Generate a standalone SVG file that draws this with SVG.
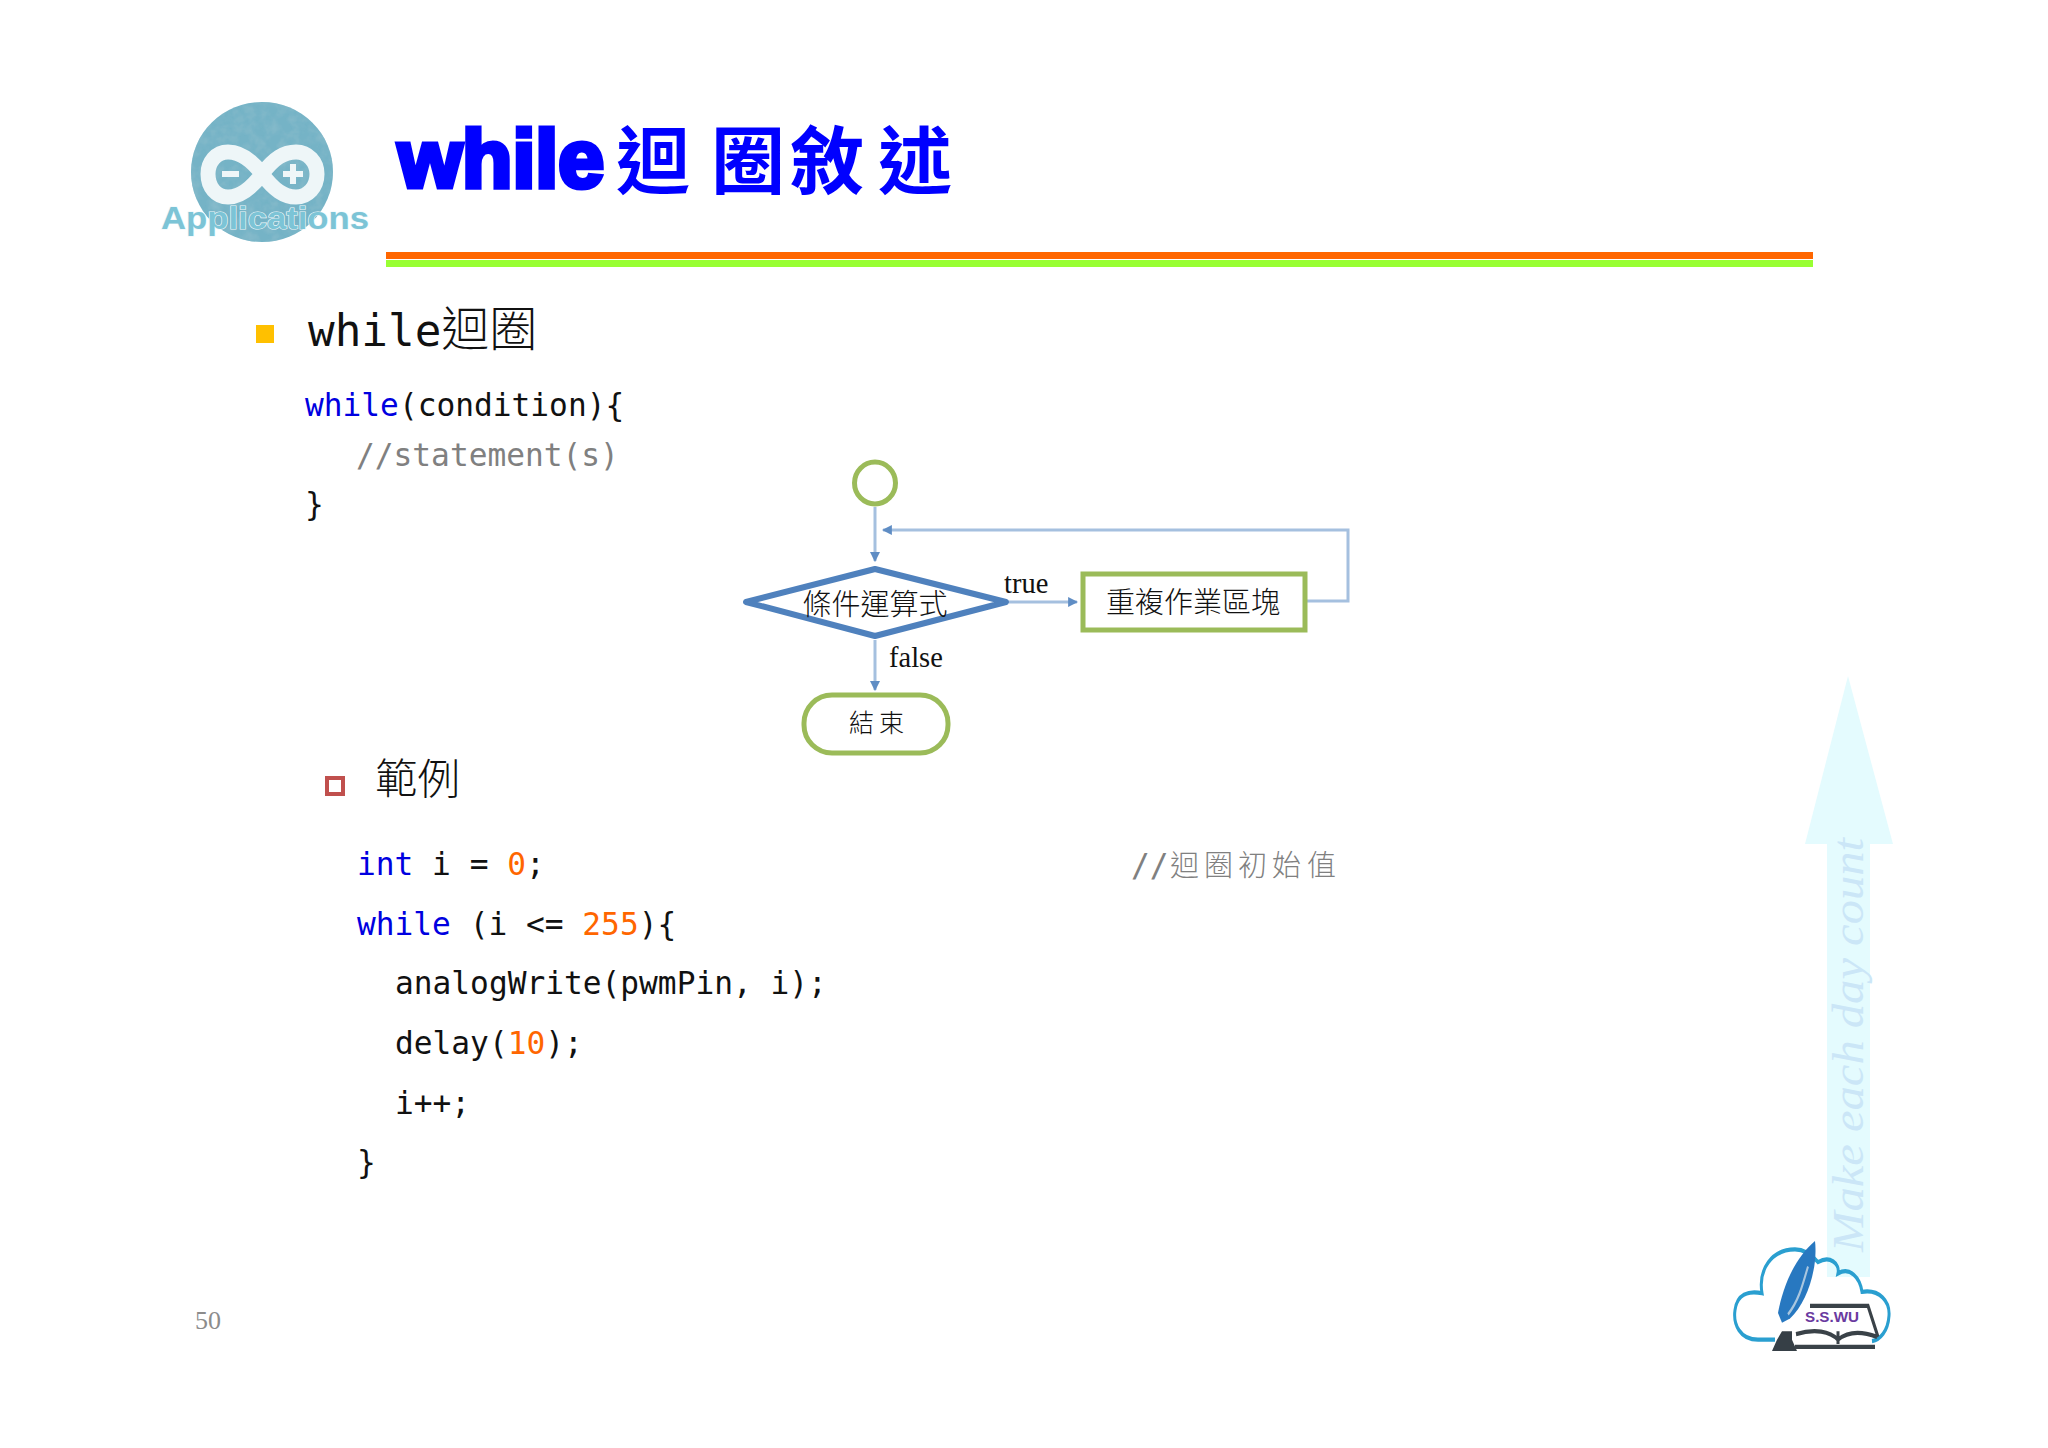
<svg xmlns="http://www.w3.org/2000/svg" width="2048" height="1448" viewBox="0 0 2048 1448">
<style>
.code{font-family:"DejaVu Sans Mono","Liberation Mono",monospace;font-size:31.2px;fill:#111;white-space:pre}
.kw{fill:#0000e0}.num{fill:#ff6600}.cm{fill:#808080}
.cjk{font-family:"Noto Sans CJK TC","Noto Sans CJK SC",sans-serif;font-weight:300;fill:#111}
.ser{font-family:"Liberation Serif",serif;font-size:28.5px;fill:#111}
.gr{fill:#fff;stroke:#9bbb59;stroke-width:5}
.link{fill:none;stroke:#a5c0df;stroke-width:3}
</style>
<defs>
<marker id="ah" markerWidth="10" markerHeight="10" refX="8" refY="4.5" orient="auto" markerUnits="userSpaceOnUse" viewBox="0 0 9 9"><path d="M0 0L9 4.5L0 9Z" fill="#5f8dc4"/></marker>
<filter id="tex" x="0" y="0" width="100%" height="100%"><feTurbulence type="fractalNoise" baseFrequency="0.09" numOctaves="3" seed="4"/><feColorMatrix values="0 0 0 0 .25 0 0 0 0 .5 0 0 0 0 .6 1.6 0 0 0 -.6"/><feComposite in2="SourceGraphic" operator="in" result="t"/><feMerge><feMergeNode in="SourceGraphic"/><feMergeNode in="t"/></feMerge></filter>
</defs>
<rect width="2048" height="1448" fill="#fff"/>

<g id="logo">
<ellipse cx="262" cy="172" rx="71" ry="70" fill="#74b3c6" filter="url(#tex)"/>
<path d="M262 174C250 158 238 152 228 152C216 152 208 162 208 174C208 187 216 197 228 197C238 197 250 190 262 174C274 158 284 152 296 152C308 152 317 162 317 174C317 187 308 197 296 197C284 197 274 190 262 174Z" fill="none" stroke="#eef6f8" stroke-width="15"/>
<rect x="222" y="171" width="17" height="6" fill="#eef6f8"/>
<path d="M283 171h7v-7h6v7h7v6h-7v7h-6v-7h-7z" fill="#eef6f8"/>
<text x="161" y="229" font-family="Liberation Sans,sans-serif" font-size="31" font-weight="700" fill="#7cc4d6" stroke="#eef8fa" stroke-width="1.2" paint-order="stroke" textLength="208" lengthAdjust="spacingAndGlyphs">Applications</text>
</g>

<g id="title">
<text x="398" y="187" font-family="Liberation Sans,sans-serif" font-size="82" font-weight="700" fill="#0000ff" stroke="#0000ff" stroke-width="5" textLength="206" lengthAdjust="spacingAndGlyphs">while</text>
<text x="616 711 790 878" y="188" font-family="Noto Sans CJK TC,Noto Sans CJK SC,sans-serif" font-size="74" font-weight="700" fill="#0000ff">迴圈敘述</text>
</g>
<rect x="386" y="252" width="1427" height="7" fill="#ff6600"/>
<rect x="386" y="260" width="1427" height="7" fill="#99ff33"/>

<g id="section1">
<rect x="256" y="325" width="18" height="18" fill="#ffc000"/>
<text x="308" y="346" font-family="DejaVu Sans Mono,monospace" font-size="44.3" fill="#111">while<tspan class="cjk" font-size="48" style="font-family:'Noto Sans CJK TC',sans-serif;font-weight:300">迴圈</tspan></text>
<text class="code" x="305" y="416"><tspan class="kw">while</tspan>(condition){</text>
<text class="code cm" x="356" y="466">//statement(s)</text>
<text class="code" x="305" y="515">}</text>
</g>

<g id="connectors">
<path class="link" d="M875 507V561" marker-end="url(#ah)"/>
<path class="link" d="M1009 602H1077" marker-end="url(#ah)"/>
<path class="link" d="M1306 601H1348V530H883" marker-end="url(#ah)"/>
<path class="link" d="M875 640V690" marker-end="url(#ah)"/>
</g>

<g id="start"><ellipse class="gr" cx="875" cy="483" rx="20.5" ry="21"/></g>
<g id="condition">
<path d="M746 602L875 569L1006 602L875 636Z" fill="#fff" stroke="#4f81bd" stroke-width="6" stroke-linejoin="round"/>
<text class="cjk" x="875" y="615" font-size="29" text-anchor="middle">條件運算式</text>
</g>
<g id="block">
<rect class="gr" x="1083" y="574" width="222" height="56"/>
<text class="cjk" x="1193" y="613" font-size="29" text-anchor="middle">重複作業區塊</text>
</g>
<g id="end">
<rect class="gr" x="804" y="695" width="144" height="58" rx="28"/>
<text class="cjk" x="849 879" y="732" font-size="25">結束</text>
</g>
<text class="ser" x="1004" y="593">true</text>
<text class="ser" x="889" y="667">false</text>

<g id="section2">
<rect x="327" y="778" width="16" height="16" fill="none" stroke="#c0504d" stroke-width="4"/>
<text class="cjk" x="375" y="794" font-size="42.5">範例</text>
<text class="code" x="357" y="875"><tspan class="kw">int</tspan> i = <tspan class="num">0</tspan>;</text>
<text class="code" x="357" y="935"><tspan class="kw">while</tspan> (i &lt;= <tspan class="num">255</tspan>){</text>
<text class="code" x="395" y="994">analogWrite(pwmPin, i);</text>
<text class="code" x="395" y="1054">delay(<tspan class="num">10</tspan>);</text>
<text class="code" x="395" y="1114">i++;</text>
<text class="code" x="357" y="1173">}</text>
<text class="code cm" x="1131" y="876">//</text>
<text class="cjk" x="1170 1204 1238 1272 1307" y="876" font-size="29" style="fill:#808080">迴圈初始值</text>
</g>

<text id="page" x="195" y="1329" font-family="Liberation Serif,serif" font-size="26" fill="#8c8c8c">50</text>

<g id="watermark">
<path d="M1848 676L1893 844L1870 844V1277H1827V844H1805Z" fill="#e4fbfe"/>
<text transform="translate(1863 1252) rotate(-90)" font-family="Liberation Serif,serif" font-style="italic" font-size="44" fill="#cbe6f7" textLength="414" lengthAdjust="spacingAndGlyphs">Make each day count</text>
</g>

<g id="swu">
<g transform="translate(0 -284.6) scale(1 1.41)">
<path d="M1775 1152H1758C1740 1152 1733 1141 1735 1131C1737 1120 1748 1117 1762 1119C1758 1102 1772 1088 1795 1088C1805 1088 1812 1092 1818 1097C1830 1092 1840 1098 1838 1105C1850 1100 1860 1108 1862 1118C1880 1116 1890 1125 1889 1135C1888 1146 1880 1152 1872 1153" fill="none" stroke="#2a9fd0" stroke-width="3"/>
<path d="M1815 1082C1818 1100 1808 1125 1790 1137L1782 1140L1778 1133C1784 1110 1798 1092 1815 1082Z" fill="#2878c0"/>
<path d="M1808 1100C1802 1115 1798 1125 1788 1134" fill="none" stroke="#a9c6df" stroke-width="2"/>
<path d="M1782 1146h10v6l5 8h-25l5-8z" fill="#363f46"/>
<path d="M1795 1157H1875M1810 1128H1868L1878 1150M1838 1146V1155M1796 1148C1815 1144 1830 1146 1838 1152C1848 1146 1862 1146 1877 1150" fill="none" stroke="#3a4248" stroke-width="3"/>
</g>
<text x="1805" y="1322" font-family="Liberation Sans,sans-serif" font-size="15" font-weight="700" fill="#6a3aa0" textLength="54" lengthAdjust="spacingAndGlyphs">S.S.WU</text>
</g>
</svg>
